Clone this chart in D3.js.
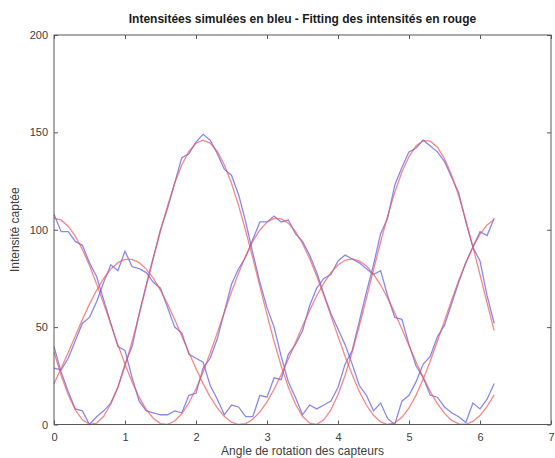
<!DOCTYPE html>
<html>
<head>
<meta charset="utf-8">
<script src="https://cdnjs.cloudflare.com/ajax/libs/d3/7.8.5/d3.min.js"></script>
<style>
  body { margin: 0; background: #fff; }
  text { font-family: "Liberation Sans", Arial, Helvetica, sans-serif; }
  .tick text { fill: #404040; font-size: 11px; }
  .tick line { stroke: #595959; }
</style>
</head>
<body>
<div id="chart"></div>
<script>
// Angle de rotation (rad), pas de 0.1
var angles = [0, 0.1, 0.2, 0.3, 0.4, 0.5, 0.6, 0.7, 0.8, 0.9,
              1.0, 1.1, 1.2, 1.3, 1.4, 1.5, 1.6, 1.7, 1.8, 1.9,
              2.0, 2.1, 2.2, 2.3, 2.4, 2.5, 2.6, 2.7, 2.8, 2.9,
              3.0, 3.1, 3.2, 3.3, 3.4, 3.5, 3.6, 3.7, 3.8, 3.9,
              4.0, 4.1, 4.2, 4.3, 4.4, 4.5, 4.6, 4.7, 4.8, 4.9,
              5.0, 5.1, 5.2, 5.3, 5.4, 5.5, 5.6, 5.7, 5.8, 5.9,
              6.0, 6.1, 6.2];

// Intensites simulees (bleu), un capteur par tableau
var simCapteur1 = [40, 27, 17, 8, 7, 0, 4, 7, 11, 19,
                   31, 40, 57, 72, 86, 100, 111, 124, 137, 139,
                   145, 149, 146, 139, 131, 128, 118, 104, 88, 73,
                   60, 50, 35, 22, 14, 5, 10, 8, 10, 12,
                   19, 31, 38, 53, 68, 82, 98, 106, 123, 132,
                   140, 142, 146, 143, 140, 135, 127, 119, 104, 91,
                   84, 66, 52];
var simCapteur2 = [29, 28, 34, 43, 52, 55, 63, 73, 82, 79,
                   89, 81, 80, 78, 73, 70, 60, 50, 47, 36,
                   34, 32, 20, 13, 5, 10, 9, 4, 4, 15,
                   14, 24, 23, 36, 41, 48, 61, 70, 75, 77,
                   84, 87, 85, 83, 80, 77, 79, 66, 55, 54,
                   41, 30, 24, 15, 14, 9, 6, 4, 1, 11,
                   8, 13, 21];
var simCapteur3 = [108, 99, 99, 94, 92, 83, 76, 64, 52, 40,
                   38, 24, 12, 7, 6, 5, 5, 7, 6, 15,
                   16, 29, 34, 44, 58, 72, 80, 86, 95, 104,
                   104, 107, 104, 105, 98, 94, 87, 78, 67, 57,
                   49, 41, 31, 20, 15, 7, 11, 3, 0, 12,
                   15, 22, 31, 35, 45, 51, 62, 73, 83, 91,
                   99, 97, 106];

// Intensites ajustees (rouge)
var fitCapteur1 = [37.2, 25.3, 15.3, 7.5, 2.4, 0.1, 0.7, 4.2, 10.5, 19.2,
                   30.0, 42.6, 56.4, 70.9, 85.4, 99.5, 112.4, 123.9, 133.3, 140.2,
                   144.5, 146.0, 144.5, 140.2, 133.3, 123.9, 112.4, 99.5, 85.4, 70.9,
                   56.4, 42.6, 30.0, 19.2, 10.5, 4.2, 0.7, 0.1, 2.4, 7.5,
                   15.3, 25.3, 37.2, 50.6, 64.8, 79.4, 93.7, 107.2, 119.3, 129.6,
                   137.6, 143.1, 145.8, 145.5, 142.4, 136.5, 128.0, 117.4, 105.0, 91.3,
                   76.9, 62.4, 48.2];
var fitCapteur2 = [21.0, 28.8, 37.0, 45.5, 53.9, 61.8, 68.9, 75.0, 79.8, 83.1,
                   84.8, 84.8, 83.1, 79.8, 75.0, 68.9, 61.8, 53.9, 45.5, 37.0,
                   28.8, 21.0, 14.2, 8.5, 4.1, 1.2, 0.0, 0.5, 2.7, 6.5,
                   11.6, 18.1, 25.5, 33.5, 42.0, 50.4, 58.6, 66.1, 72.6, 78.0,
                   81.9, 84.3, 85.0, 84.0, 81.4, 77.2, 71.6, 64.9, 57.2, 49.0,
                   40.5, 32.1, 24.2, 16.9, 10.7, 5.7, 2.1, 0.3, 0.1, 1.6,
                   4.6, 9.3, 15.2];
var fitCapteur3 = [106.0, 104.9, 101.8, 96.7, 89.9, 81.6, 72.2, 62.0, 51.5, 41.0,
                   30.9, 21.8, 13.9, 7.6, 3.1, 0.5, 0.1, 1.8, 5.5, 11.1,
                   18.4, 27.0, 36.7, 47.1, 57.6, 68.0, 77.8, 86.6, 94.1, 99.9,
                   103.9, 105.8, 105.6, 103.4, 99.1, 93.0, 85.2, 76.2, 66.3, 55.9,
                   45.3, 35.0, 25.5, 17.0, 10.0, 4.7, 1.3, 0.0, 0.8, 3.7,
                   8.5, 15.1, 23.3, 32.6, 42.7, 53.2, 63.8, 73.9, 83.1, 91.2,
                   97.7, 102.5, 105.3];

var xTicks = [0, 1, 2, 3, 4, 5, 6, 7];
var yTicks = [0, 50, 100, 150, 200];

var titre = "Intensitées simulées en bleu - Fitting des intensités en rouge";
var labelX = "Angle de rotation des capteurs";
var labelY = "Intensité captée";

// Dimensions
var svgWidth = 555;
var svgHeight = 458;
var chartMarg = { top: 35, bottom: 33.5, right: 4, left: 54 };
var chartWidth = svgWidth - chartMarg.left - chartMarg.right;
var chartHeight = svgHeight - chartMarg.top - chartMarg.bottom;

var svg = d3.select("#chart")
    .append("svg")
    .attr("width", svgWidth)
    .attr("height", svgHeight);

var chartGroup = svg.append("g")
    .attr("transform", `translate(${chartMarg.left}, ${chartMarg.top})`);

// Scales
var xScale = d3.scaleLinear().domain([0, 7]).range([0, chartWidth]);
var yScale = d3.scaleLinear().domain([0, 200]).range([chartHeight, 0]);

// Axes, ticks vers l'interieur comme dans Octave
var bottomAxis = d3.axisBottom(xScale).tickValues(xTicks).tickFormat(d3.format("d"))
    .tickSize(-4).tickPadding(9);
var topAxis = d3.axisTop(xScale).tickValues(xTicks).tickSize(-4).tickFormat("");
var leftAxis = d3.axisLeft(yScale).tickValues(yTicks).tickFormat(d3.format("d"))
    .tickSize(-4).tickPadding(6);
var rightAxis = d3.axisRight(yScale).tickValues(yTicks).tickSize(-4).tickFormat("");

chartGroup.append("g")
    .attr("transform", `translate(0, ${chartHeight})`)
    .call(bottomAxis);
chartGroup.append("g").call(topAxis);
chartGroup.append("g").call(leftAxis);
chartGroup.append("g")
    .attr("transform", `translate(${chartWidth}, 0)`)
    .call(rightAxis);
chartGroup.selectAll(".domain").remove();

// Lines
var line = d3.line()
    .x((d, i) => xScale(angles[i]))
    .y(d => yScale(d));

var simSeries = [simCapteur1, simCapteur2, simCapteur3];
var fitSeries = [fitCapteur1, fitCapteur2, fitCapteur3];

chartGroup.selectAll(".sim")
    .data(simSeries)
    .enter()
    .append("path")
    .attr("class", "sim")
    .attr("d", line)
    .attr("fill", "none")
    .attr("stroke", "rgb(85, 85, 235)")
    .attr("stroke-opacity", 0.7)
    .attr("stroke-width", 1.3);

chartGroup.selectAll(".fit")
    .data(fitSeries)
    .enter()
    .append("path")
    .attr("class", "fit")
    .attr("d", line)
    .attr("fill", "none")
    .attr("stroke", "rgb(240, 85, 85)")
    .attr("stroke-opacity", 0.7)
    .attr("stroke-width", 1.3);

// Box
chartGroup.append("rect")
    .attr("width", chartWidth)
    .attr("height", chartHeight)
    .attr("fill", "none")
    .attr("stroke", "#595959")
    .attr("stroke-width", 1);

// Texts
svg.append("text")
    .attr("x", chartMarg.left + chartWidth / 2)
    .attr("y", 23)
    .attr("text-anchor", "middle")
    .attr("font-size", "12px")
    .attr("font-weight", "bold")
    .attr("fill", "#1a1a1a")
    .text(titre);

svg.append("text")
    .attr("x", chartMarg.left + chartWidth / 2)
    .attr("y", 455)
    .attr("text-anchor", "middle")
    .attr("font-size", "12px")
    .attr("fill", "#404040")
    .text(labelX);

svg.append("text")
    .attr("transform", `translate(19, ${chartMarg.top + chartHeight / 2}) rotate(-90)`)
    .attr("text-anchor", "middle")
    .attr("font-size", "12px")
    .attr("fill", "#404040")
    .text(labelY);
</script>
</body>
</html>
